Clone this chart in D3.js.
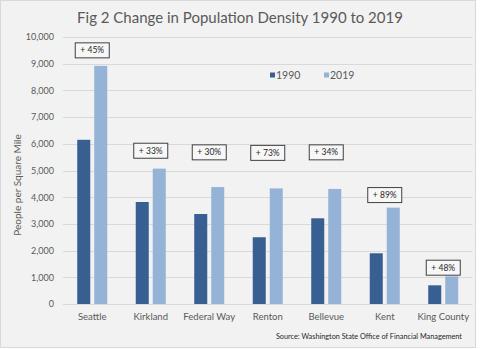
<!DOCTYPE html>
<html>
<head>
<meta charset="utf-8">
<script src="https://cdn.jsdelivr.net/npm/d3@7"></script>
<style>
  body { margin: 0; background: #fff; }
  svg { display: block; font-family: Lato, "Open Sans", sans-serif; }
</style>
</head>
<body>
<svg id="svg"></svg>
<script>
// Population density per square mile
const cities = ['Seattle', 'Kirkland', 'Federal Way', 'Renton', 'Bellevue', 'Kent', 'King County'];
const years = ['1990', '2019'];
const density1990 = [6150, 3820, 3370, 2500, 3210, 1900, 700];
const density2019 = [8920, 5070, 4380, 4330, 4310, 3610, 1035];
const changeLabels = ['+ 45%', '+ 33%', '+ 30%', '+ 73%', '+ 34%', '+ 89%', '+ 48%'];
// where each change label sits, in people per square mile
const labelLevels = [9500, 5740, 5680, 5660, 5680, 4080, 1360];
const yTicks = [0, 1000, 2000, 3000, 4000, 5000, 6000, 7000, 8000, 9000, 10000];

const width = 480;
const height = 349;
const colors = { '1990': '#375f92', '2019': '#95b3d7' };

const svg = d3.select('#svg')
  .attr('width', width)
  .attr('height', height);

// chart area background + border
svg.append('rect')
  .attr('x', 0.5)
  .attr('y', 0.5)
  .attr('width', 475)
  .attr('height', 347)
  .attr('fill', '#f2f2f2')
  .attr('stroke', '#d9d9d9');

const y = d3.scaleLinear()
  .domain([0, 10000])
  .range([304, 37]);

const x0 = d3.scaleBand()
  .domain(cities)
  .range([63, 472.5])
  .paddingInner(0.487)
  .paddingOuter(0.2435);

const x1 = d3.scaleBand()
  .domain(years)
  .range([0, x0.bandwidth()])
  .paddingInner(0.235);

// gridlines
svg.append('g')
  .selectAll('line')
  .data(yTicks)
  .join('line')
  .attr('x1', 63)
  .attr('x2', 472.5)
  .attr('y1', d => Math.round(y(d)) + 0.5)
  .attr('y2', d => Math.round(y(d)) + 0.5)
  .attr('stroke', '#d9d9d9')
  .attr('stroke-width', 1);

// y axis labels
const yAxis = d3.axisLeft(y)
  .tickValues(yTicks)
  .tickFormat(d3.format(','))
  .tickSize(0)
  .tickPadding(9);

svg.append('g')
  .attr('transform', 'translate(63,0)')
  .call(yAxis)
  .call(g => g.select('.domain').remove())
  .selectAll('text')
  .attr('fill', '#595959')
  .attr('font-size', '9px')
  .attr('font-family', 'Lato, sans-serif');

// x axis labels
const xAxis = d3.axisBottom(x0)
  .tickSize(0)
  .tickPadding(9);

svg.append('g')
  .attr('transform', 'translate(0,304)')
  .call(xAxis)
  .call(g => g.select('.domain').remove())
  .selectAll('text')
  .attr('fill', '#595959')
  .attr('font-size', '9.5px')
  .attr('font-family', 'Lato, sans-serif');

// bars
const rows = cities.map((c, i) => ({ city: c, '1990': density1990[i], '2019': density2019[i] }));

svg.append('g')
  .selectAll('g')
  .data(rows)
  .join('g')
  .attr('transform', d => `translate(${x0(d.city)},0)`)
  .selectAll('rect')
  .data(d => years.map(yr => ({ year: yr, value: d[yr] })))
  .join('rect')
  .attr('x', d => x1(d.year))
  .attr('y', d => y(d.value))
  .attr('width', x1.bandwidth())
  .attr('height', d => y(0) - y(d.value))
  .attr('fill', d => colors[d.year]);

// change labels in boxes
const labels = svg.append('g')
  .selectAll('g')
  .data(cities)
  .join('g')
  .attr('transform', (d, i) => `translate(${x0(d) + x0.bandwidth() / 2},${y(labelLevels[i])})`);

labels.append('rect')
  .attr('x', -17)
  .attr('y', -7.5)
  .attr('width', 34)
  .attr('height', 15)
  .attr('fill', '#f7f7f7')
  .attr('stroke', '#404040')
  .attr('stroke-width', 1);

labels.append('text')
  .attr('text-anchor', 'middle')
  .attr('dy', '0.35em')
  .attr('font-size', '8.5px')
  .attr('fill', '#262626')
  .text((d, i) => changeLabels[i]);

// title
svg.append('text')
  .attr('x', 240)
  .attr('y', 23)
  .attr('text-anchor', 'middle')
  .attr('font-size', '15px')
  .attr('fill', '#595959')
  .text('Fig 2 Change in Population Density 1990 to 2019');

// y axis title
svg.append('text')
  .attr('transform', 'translate(21,185) rotate(-90)')
  .attr('text-anchor', 'middle')
  .attr('font-size', '10px')
  .attr('fill', '#595959')
  .text('People per Square Mile');

// legend
const legend = svg.append('g')
  .selectAll('g')
  .data(years)
  .join('g')
  .attr('transform', (d, i) => `translate(${270 + i * 54},75)`);

legend.append('rect')
  .attr('x', 0)
  .attr('y', -2.5)
  .attr('width', 5)
  .attr('height', 5)
  .attr('fill', d => colors[d]);

legend.append('text')
  .attr('x', 6)
  .attr('dy', '0.35em')
  .attr('font-size', '10.5px')
  .attr('fill', '#595959')
  .text(d => d);

// source note
svg.append('text')
  .attr('x', 462)
  .attr('y', 339)
  .attr('text-anchor', 'end')
  .attr('font-size', '7.3px')
  .attr('fill', '#262626')
  .text('Source: Washington State Office of Financial Management');
</script>
</body>
</html>
